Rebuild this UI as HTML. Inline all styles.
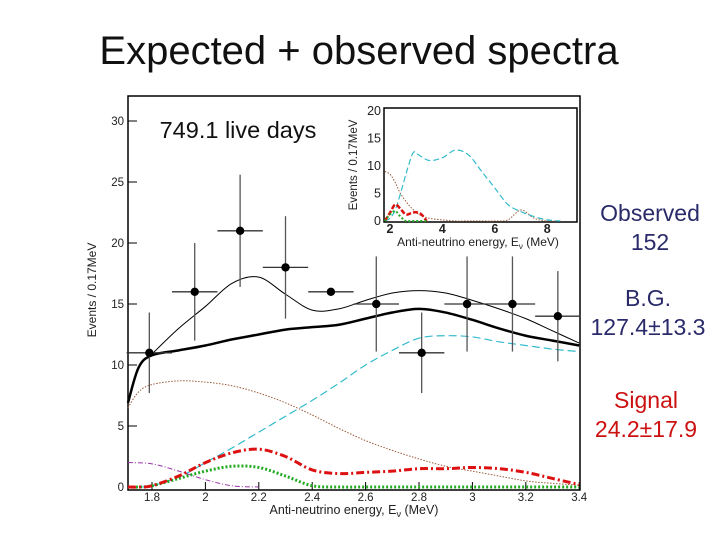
<!DOCTYPE html>
<html><head><meta charset="utf-8"><style>
body{margin:0;width:720px;height:540px;background:#fff;overflow:hidden;font-family:"Liberation Sans",sans-serif}
svg{position:absolute;left:0;top:0}
</style></head><body>
<svg id="c" width="720" height="540">
<text x="359" y="64" text-anchor="middle" font-size="40" fill="#111">Expected + observed spectra</text>
<rect x="128" y="96" width="452" height="394" fill="none" stroke="#000" stroke-width="1.5"/>
<text x="238" y="138" text-anchor="middle" font-size="23.5" fill="#111">749.1 live days</text>
<text x="96" y="290" text-anchor="middle" font-size="12" fill="#222" transform="rotate(-90 96 290)">Events / 0.17MeV</text>
<text x="354" y="514" text-anchor="middle" font-size="12.5" fill="#222">Anti-neutrino energy, E<tspan font-size="9" dy="3">ν</tspan><tspan dy="-3"> (MeV)</tspan></text>
<rect x="384" y="108" width="193" height="114" fill="#fff" stroke="#000" stroke-width="1.5"/>
<text x="357" y="165" text-anchor="middle" font-size="11.5" fill="#222" transform="rotate(-90 357 165)">Events / 0.17MeV</text>
<text x="478" y="246" text-anchor="middle" font-size="12" fill="#222">Anti-neutrino energy, E<tspan font-size="8" dy="3">ν</tspan><tspan dy="-3"> (MeV)</tspan></text>
<text x="650" y="221" text-anchor="middle" font-size="23" fill="#2a2a6a">Observed</text>
<text x="650" y="250" text-anchor="middle" font-size="23" fill="#2a2a6a">152</text>
<text x="648" y="306" text-anchor="middle" font-size="23" fill="#2a2a6a">B.G.</text>
<text x="648" y="335" text-anchor="middle" font-size="23" fill="#2a2a6a">127.4±13.3</text>
<text x="646" y="408" text-anchor="middle" font-size="23" fill="#cc1111">Signal</text>
<text x="646" y="437" text-anchor="middle" font-size="23" fill="#cc1111">24.2±17.9</text>
<g id="g"></g>
</svg>
<script>
const xGrid=[1.71,1.75,1.8,1.9,2.0,2.1,2.2,2.3,2.4,2.5,2.6,2.7,2.8,2.9,3.0,3.1,3.2,3.3,3.4];
const totalExp=[6.9,9.8,10.9,13,14.8,16.7,17.2,15.8,14.5,14.6,15.3,15.9,16.1,15.9,15.3,14.6,13.8,12.8,11.8];
const background=[6.9,9.8,10.8,11.2,11.6,12.1,12.5,12.9,13.1,13.3,13.8,14.3,14.6,14.3,13.7,13.0,12.4,12.0,11.6];
const cyanBg=[0,0,0.1,0.8,2.0,3.2,4.5,5.8,7.1,8.5,10.0,11.2,12.2,12.4,12.3,11.9,11.6,11.3,11.1];
const brownBg=[6.5,7.8,8.4,8.7,8.6,8.3,7.7,6.9,5.9,4.8,3.8,3.0,2.3,1.7,1.3,0.9,0.5,0.3,0.15];
const redSig=[0,0,0.1,0.9,2.0,2.8,3.1,2.5,1.4,1.1,1.2,1.3,1.5,1.5,1.6,1.5,1.2,0.7,0.2];
const greenSig=[0,0,0.1,0.7,1.3,1.7,1.6,0.9,0.1,0,0,0,0,0,0,0,0,0,0];
const purpleX=[1.71,1.8,1.9,2.0,2.1,2.2];
const purpleY=[2,1.9,1.3,0.6,0.1,0];
const dataX=[1.79,1.96,2.13,2.30,2.47,2.64,2.81,2.98,3.15,3.32];
const dataY=[11,16,21,18,16,15,11,15,15,14];
const dataErr=[3.3,4,4.6,4.2,0,3.9,3.3,3.9,3.9,3.7];
const xTicks=[1.8,2,2.2,2.4,2.6,2.8,3,3.2,3.4];
const yTicks=[0,5,10,15,20,25,30];
const insetX=[1.8,2.0,2.2,2.4,2.7,2.9,3.1,3.5,4.0,4.5,5.0,5.5,6.0,6.5,7.0,7.5,8.0,8.5];
const insetCyan=[0,0.5,2,5,10,12.5,12,11,11.5,12.9,12,9,6,3,1.7,0.8,0.2,0];
const insetBrown=[9,8.5,7,5,3,2,1.2,0.5,0.2,0,0,0,0,0.2,2,0.5,0,0];
const insetSigX=[1.8,2.0,2.2,2.4,2.6,2.8,3.0,3.2,3.4];
const insetRed=[0,1.5,3,2.2,1.2,1.4,1.6,1.2,0];
const insetGreen=[0,1.2,1.8,0.8,0,0,0,0,0];
const insetTicksX=[2,4,6,8];
const insetTicksY=[0,5,10,15,20];
const NS='http://www.w3.org/2000/svg',g=document.getElementById('g');
const X=v=>152+(v-1.8)*267, Y=v=>487-v*12.2;
const IX=v=>390+(v-2)*26.2, IY=v=>221-v*5.5;
function mk(t,a){const e=document.createElementNS(NS,t);for(const k in a)e.setAttribute(k,a[k]);g.appendChild(e);return e;}
function smooth(p){let d='M'+p[0][0]+','+p[0][1];
 for(let i=0;i<p.length-1;i++){const a=p[Math.max(i-1,0)],b=p[i],c=p[i+1],e=p[Math.min(i+2,p.length-1)];
  d+=' C'+(b[0]+(c[0]-a[0])/6)+','+(b[1]+(c[1]-a[1])/6)+' '+(c[0]-(e[0]-b[0])/6)+','+(c[1]-(e[1]-b[1])/6)+' '+c[0]+','+c[1];}
 return d;}
function line(xs,ys,fx,fy,col,w,dash,name){
 const e=mk('path',{d:smooth(xs.map((x,i)=>[fx(x),fy(ys[i])])),fill:'none',stroke:col,'stroke-width':w,'stroke-dasharray':dash||'','stroke-linejoin':'round'});
 
 
}
xTicks.forEach(t=>{const e=mk('text',{x:X(t),y:501,'text-anchor':'middle','font-size':11.5,fill:'#222'});e.textContent=t;
 
 
 mk('line',{x1:X(t),x2:X(t),y1:490,y2:482,stroke:'#000'});});
yTicks.forEach(t=>{const e=mk('text',{x:124,y:Y(t)+4,'text-anchor':'end','font-size':11.5,fill:'#222'});e.textContent=t;
 
 
 mk('line',{x1:128,x2:137,y1:Y(t),y2:Y(t),stroke:'#000'});});
line(xGrid,brownBg,X,Y,'#9a5a3a',1,'1.5 1.5','accidental-bg-curve');
line(xGrid,cyanBg,X,Y,'#33bbcc',1.2,'8 4','reactor-bg-curve');
line(purpleX,purpleY,X,Y,'#9933aa',1,'5 2 1 2','purple-bg-curve');
line(xGrid,greenSig,X,Y,'#22aa22',3,'2 2','green-signal-curve');
line(xGrid,redSig,X,Y,'#dd1111',3,'8 3 2 3','red-signal-curve');
line(xGrid,totalExp,X,Y,'#000',1,'','expected-total-curve');
line(xGrid,background,X,Y,'#000',2.5,'','background-total-curve');
dataX.forEach((x,i)=>{
 mk('line',{x1:X(x-0.085),x2:X(x+0.085),y1:Y(dataY[i]),y2:Y(dataY[i]),stroke:'#333','stroke-width':1.3});
 mk('line',{x1:X(x),x2:X(x),y1:Y(dataY[i]-dataErr[i]),y2:Y(dataY[i]+dataErr[i]),stroke:'#555','stroke-width':1.3});
 const c=mk('circle',{cx:X(x),cy:Y(dataY[i]),r:4.2,fill:'#000'});
 
 
});
insetTicksX.forEach(t=>{const e=mk('text',{x:IX(t),y:233,'text-anchor':'middle','font-size':12.5,'font-weight':'bold',fill:'#222'});e.textContent=t;
 
 });
insetTicksY.forEach(t=>{const e=mk('text',{x:381,y:IY(t)+4,'text-anchor':'end','font-size':12.5,fill:'#222'});e.textContent=t;
 
 });
line(insetX,insetBrown,IX,IY,'#9a5a3a',1,'1.5 1.5','inset-accidental-curve');
line(insetX,insetCyan,IX,IY,'#33bbcc',1.2,'6 3','inset-reactor-curve');
line(insetSigX,insetRed,IX,IY,'#dd1111',2.5,'5 2','inset-red-curve');
line(insetSigX,insetGreen,IX,IY,'#22aa22',2,'2 2','inset-green-curve');
</script>
</body></html>
